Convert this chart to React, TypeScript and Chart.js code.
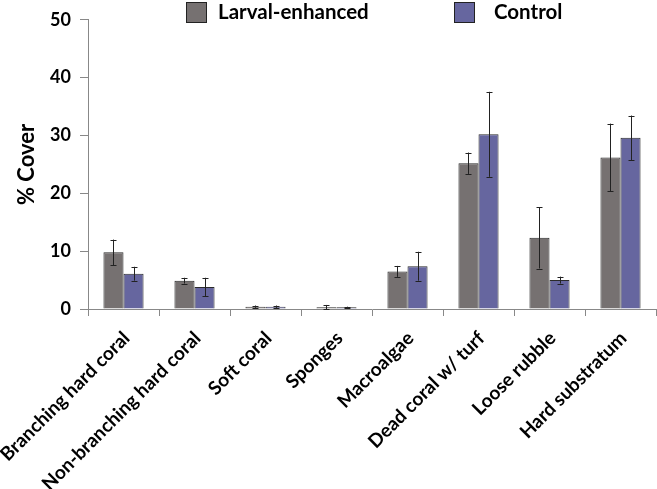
import React, { useEffect, useRef } from "react";
import { Chart, registerables } from "chart.js";

Chart.register(...registerables);

const categories = [
  "Branching hard coral",
  "Non-branching hard coral",
  "Soft coral",
  "Sponges",
  "Macroalgae",
  "Dead coral w/ turf",
  "Loose rubble",
  "Hard substratum",
];
const seriesNames = ["Larval-enhanced", "Control"];
const larvalValues = [9.8, 4.9, 0.4, 0.3, 6.5, 25.2, 12.3, 26.2];
const larvalErrors = [2.2, 0.5, 0.2, 0.4, 0.95, 1.85, 5.3, 5.85];
const controlValues = [6.1, 3.8, 0.4, 0.3, 7.4, 30.2, 5.0, 29.6];
const controlErrors = [1.2, 1.6, 0.2, 0.1, 2.5, 7.35, 0.6, 3.85];
const yTicks = [0, 10, 20, 30, 40, 50];

const FONT = "Lato, 'Open Sans', sans-serif";
const colors = ["#767171", "#66669f"];

const errorBarPlugin = {
  id: "errorBars",
  afterDatasetsDraw(chart: any) {
    const ctx = chart.ctx;
    const y = chart.scales.y;
    const errs = [larvalErrors, controlErrors];
    ctx.save();
    ctx.strokeStyle = "#222";
    ctx.lineWidth = 1;
    chart.data.datasets.forEach((ds: any, di: number) => {
      const meta = chart.getDatasetMeta(di);
      meta.data.forEach((bar: any, i: number) => {
        const v = ds.data[i];
        const e = errs[di][i];
        const x = Math.round(bar.x) + 0.5;
        const yt = y.getPixelForValue(v + e);
        const yb = y.getPixelForValue(Math.max(0, v - e));
        ctx.beginPath();
        ctx.moveTo(x, yt);
        ctx.lineTo(x, yb);
        ctx.moveTo(x - 3, Math.round(yt) + 0.5);
        ctx.lineTo(x + 3, Math.round(yt) + 0.5);
        ctx.moveTo(x - 3, Math.round(yb) + 0.5);
        ctx.lineTo(x + 3, Math.round(yb) + 0.5);
        ctx.stroke();
      });
    });
    ctx.restore();
  },
};

const legendPlugin = {
  id: "customLegend",
  afterDraw(chart: any) {
    const ctx = chart.ctx;
    const items = [
      { box: 186, text: 218 },
      { box: 454, text: 494 },
    ];
    ctx.save();
    ctx.font = `bold 20.5px ${FONT}`;
    ctx.textBaseline = "middle";
    ctx.fillStyle = "#000";
    items.forEach((it, i) => {
      ctx.fillStyle = colors[i];
      ctx.fillRect(it.box, 2, 21, 21);
      ctx.strokeStyle = "#222";
      ctx.lineWidth = 1;
      ctx.strokeRect(it.box + 0.5, 2.5, 20, 20);
      ctx.fillStyle = "#000";
      ctx.fillText(seriesNames[i], it.text, 12);
    });
    ctx.restore();
  },
};

export default function App() {
  const ref = useRef<HTMLCanvasElement>(null);
  useEffect(() => {
    if (!ref.current) return;
    const chart = new Chart(ref.current, {
      type: "bar",
      data: {
        labels: categories,
        datasets: [
          {
            label: seriesNames[0],
            data: larvalValues,
            backgroundColor: colors[0],
            borderColor: "#2a2a2a",
            borderWidth: 1,
            categoryPercentage: 0.565,
            barPercentage: 1,
          },
          {
            label: seriesNames[1],
            data: controlValues,
            backgroundColor: colors[1],
            borderColor: "#2a2a2a",
            borderWidth: 1,
            categoryPercentage: 0.565,
            barPercentage: 1,
          },
        ],
      },
      options: {
        animation: false,
        responsive: true,
        maintainAspectRatio: false,
        layout: { padding: { top: 12, right: 1, left: 0, bottom: 0 } },
        plugins: {
          legend: { display: false },
          tooltip: { enabled: false },
        },
        scales: {
          x: {
            afterFit: (scale: any) => {
              scale.height = 180;
              scale.paddingLeft = 0;
              scale.paddingRight = 0;
            },
            grid: {
              display: true,
              drawOnChartArea: false,
              drawTicks: true,
              tickLength: 7,
              color: "#888",
              offset: true,
            },
            border: { color: "#888", width: 1 },
            ticks: {
              color: "#000",
              font: { family: FONT, size: 19, weight: "bold" },
              maxRotation: 45,
              minRotation: 45,
              padding: 11,
              labelOffset: 3,
              autoSkip: false,
            },
          },
          y: {
            min: 0,
            max: 50,
            afterFit: (scale: any) => {
              scale.width = 88;
            },
            afterBuildTicks: (axis: any) => {
              axis.ticks = yTicks.map((v) => ({ value: v }));
            },
            grid: {
              display: true,
              drawOnChartArea: false,
              drawTicks: true,
              tickLength: 8,
              color: "#888",
            },
            border: { color: "#888", width: 1 },
            ticks: {
              color: "#000",
              font: { family: FONT, size: 18, weight: "bold" },
              padding: 9,
            },
            title: {
              display: true,
              text: "% Cover",
              color: "#000",
              font: { family: FONT, size: 22, weight: "bold" },
              padding: { top: 14, bottom: 8 },
            },
          },
        },
      },
      plugins: [errorBarPlugin, legendPlugin],
    });
    return () => chart.destroy();
  }, []);
  return (
    <div style={{ position: "absolute", left: 0, top: 0, width: 657, height: 489 }}>
      <canvas ref={ref} />
    </div>
  );
}
